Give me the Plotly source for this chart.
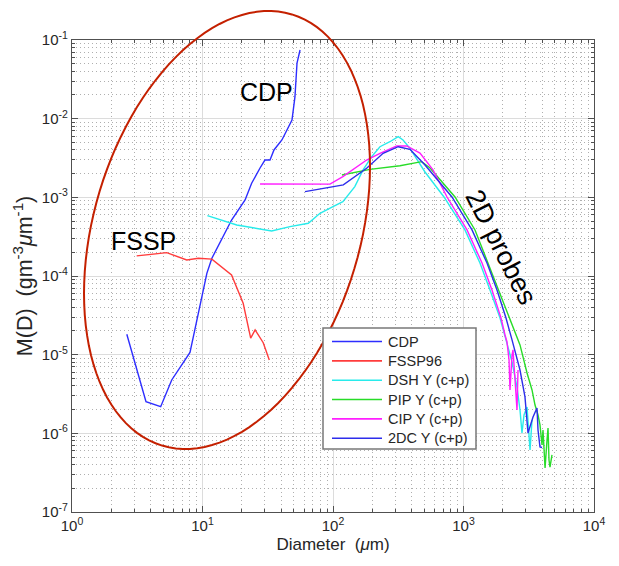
import numpy as np
import plotly.graph_objects as go

# diameters (um) and mass distributions M(D) (g m^-3 um^-1)
cdp_d = [2.63, 3.69, 4.78, 5.81, 8.02, 9.03, 10.8, 11.8, 14.4, 16.7, 21.2, 23.8, 27.6,
         30.1, 32.9, 35.3, 40.6, 46.0, 48.5, 51.1, 53.0, 55.9]
cdp_m = [1.82e-5, 2.52e-6, 2.18e-6, 4.77e-6, 1.07e-5, 2.62e-5, 1.08e-4, 1.68e-4, 3.16e-4,
         5.15e-4, 9.25e-4, 1.51e-3, 2.36e-3, 2.98e-3, 2.98e-3, 4.00e-3, 5.36e-3, 7.83e-3,
         9.62e-3, 1.89e-2, 5.10e-2, 7.46e-2]

fssp_d = [3.13, 5.32, 7.57, 9.29, 11.8, 16.7, 20.5, 23.4, 25.3, 29.2, 32.5]
fssp_m = [1.80e-4, 1.98e-4, 1.60e-4, 1.68e-4, 1.64e-4, 1.03e-4, 4.50e-5, 1.62e-5, 2.06e-5,
          1.42e-5, 8.55e-6]

dsh_d = [10.9, 18.3, 33.9, 46.8, 64.7, 79.5, 100, 119, 147, 170, 198, 229, 273, 316, 344,
         389, 507, 709, 1026, 1337, 1596, 1905, 2117, 2354, 2570, 2710, 2806, 2909, 3068,
         3235, 3350]
dsh_m = [5.85e-4, 4.45e-4, 3.73e-4, 4.24e-4, 4.68e-4, 6.27e-4, 7.60e-4, 8.80e-4, 1.37e-3,
         2.23e-3, 3.29e-3, 4.40e-3, 5.09e-3, 5.90e-3, 5.36e-3, 4.20e-3, 2.10e-3, 1.01e-3,
         3.85e-4, 1.46e-4, 6.64e-5, 2.92e-5, 1.54e-5, 8.07e-6, 3.88e-6, 1.98e-6, 1.01e-6,
         1.71e-6, 2.16e-6, 6.14e-7, 1.48e-6]

pip_d = [117, 192, 326, 478, 554, 661, 861, 1225, 1541, 2271, 2710, 3068, 3350, 3532, 3724,
         3856, 3996, 4066, 4217, 4366, 4444, 4520, 4600, 4766]
pip_m = [1.92e-3, 2.27e-3, 2.52e-3, 2.84e-3, 2.36e-3, 1.66e-3, 1.01e-3, 3.85e-4, 1.46e-4,
         2.92e-5, 1.33e-5, 5.85e-6, 3.56e-6, 2.29e-6, 1.71e-6, 1.28e-6, 7.11e-7, 1.10e-6,
         3.63e-7, 8.23e-7, 1.17e-6, 4.58e-7, 3.73e-7, 5.31e-7]

cip_d = [27.6, 55.9, 94.8, 119, 147, 181, 229, 308, 367, 464, 584, 748, 1064, 1387, 1653,
         1938, 2080, 2154, 2233, 2271, 2354, 2395, 2483, 2570, 2617]
cip_m = [1.48e-3, 1.48e-3, 1.47e-3, 1.83e-3, 2.36e-3, 2.98e-3, 3.63e-3, 4.50e-3, 4.50e-3,
         3.66e-3, 2.23e-3, 1.01e-3, 3.85e-4, 1.46e-4, 6.64e-5, 2.92e-5, 1.78e-5, 1.45e-5,
         8.55e-6, 3.56e-6, 9.91e-6, 1.15e-5, 4.77e-6, 1.98e-6, 6.38e-6]

dc2_d = [61.0, 120, 181, 242, 316, 389, 507, 816, 1162, 1514, 1806, 2117, 2354, 2710, 2958,
         3120, 3410, 3658, 3724, 3856, 3996]
dc2_m = [1.18e-3, 1.44e-3, 2.34e-3, 3.63e-3, 4.40e-3, 4.08e-3, 2.58e-3, 1.01e-3, 3.85e-4,
         1.46e-4, 6.64e-5, 2.92e-5, 1.54e-5, 6.38e-6, 2.90e-6, 1.01e-6, 1.61e-6, 2.10e-6,
         1.10e-6, 6.71e-7, 6.60e-7]

series = [
    ('CDP', cdp_d, cdp_m, 'rgb(45,45,255)'),
    ('FSSP96', fssp_d, fssp_m, 'rgb(255,60,60)'),
    ('DSH Y (c+p)', dsh_d, dsh_m, 'rgb(40,235,235)'),
    ('PIP Y (c+p)', pip_d, pip_m, 'rgb(40,220,40)'),
    ('CIP Y (c+p)', cip_d, cip_m, 'rgb(255,30,255)'),
    ('2DC Y (c+p)', dc2_d, dc2_m, 'rgb(45,45,235)'),
]

fig = go.Figure()
for name, d, m, col in series:
    fig.add_trace(go.Scatter(x=d, y=m, mode='lines', name=name,
                             line=dict(color=col, width=1.4)))

# page has an 8px body margin, so the figure is 8px smaller than the window
OFF = 8
W, H = 619 - OFF, 566 - OFF
# plot area in window pixels: x 72..594, y 40..512
L, R, T, B = 72, 594, 40, 512
def to_paper(px, py):
    return (px - L) / (R - L), (B - py) / (B - T)

# tilted ellipse round the small-particle probes
t = np.linspace(0, 2 * np.pi, 121)
psi = np.arccos(0.29)
ex = 227 + 143 * np.cos(t)
ey = 230 - 219 * np.cos(t - psi)
pts = [to_paper(a, b) for a, b in zip(ex, ey)]
path = 'M ' + ' L '.join('%.4f,%.4f' % p for p in pts) + ' Z'
fig.add_shape(type='path', path=path, xref='paper', yref='paper',
              line=dict(color='rgb(196,32,0)', width=2))

txt = dict(family='Liberation Sans, Arial', size=25, color='black')
for label, px, py, ang, fs in [('CDP', 266, 92, 0, 25), ('FSSP', 143, 241, 0, 25),
                               ('2D probes', 501, 247, 63, 27)]:
    xp, yp = to_paper(px, py)
    fig.add_annotation(x=xp, y=yp, xref='paper', yref='paper', text=label, showarrow=False,
                       textangle=ang, font=dict(txt, size=fs), xanchor='center', yanchor='middle')

# legend box drawn by hand, MATLAB style
tcol = 'rgb(38,38,38)'
x0, y0 = to_paper(323, 328)
x1, y1 = to_paper(476, 449)
fig.add_shape(type='rect', xref='paper', yref='paper', x0=x0, y0=y0, x1=x1, y1=y1,
              fillcolor='white', line=dict(color='rgb(120,120,120)', width=1.5))
for i, (name, d, m, col) in enumerate(series):
    row = 341.5 + 19.35 * i
    lx0, ly = to_paper(332, row)
    lx1, _ = to_paper(382, row)
    fig.add_shape(type='line', xref='paper', yref='paper', x0=lx0, x1=lx1, y0=ly, y1=ly,
                  line=dict(color=col, width=1.6))
    tx, _ = to_paper(386, row)
    fig.add_annotation(x=tx, y=ly, xref='paper', yref='paper', text=name, showarrow=False,
                       xanchor='left', yanchor='middle',
                       font=dict(family='Liberation Sans, Arial', size=14.5, color=tcol))

grid_major = 'rgb(220,220,220)'
grid_minor = 'rgb(175,175,175)'
axcol = 'rgb(80,80,80)'

xminor = [m * 10 ** k for k in range(0, 4) for m in range(2, 10)]
yminor = [m * 10.0 ** k for k in range(-7, -1) for m in range(2, 10)]

fig.update_xaxes(type='log', range=[0, 4],
                 tickvals=[1, 10, 100, 1000, 10000],
                 ticktext=['10<sup>%d</sup>' % k for k in range(5)],
                 showline=True, linecolor=axcol, linewidth=1.2, mirror='ticks',
                 ticks='inside', ticklen=6, tickcolor=axcol,
                 showgrid=True, gridcolor=grid_major, zeroline=False,
                 minor=dict(tickvals=xminor, ticks='inside', ticklen=3, tickcolor=axcol,
                            showgrid=True, gridcolor=grid_minor, griddash='1px,3px'),
                 tickfont=dict(size=15, color=tcol),
                 title=dict(text='Diameter\u00a0\u00a0(<i>\u03bc</i>m)', standoff=5,
                            font=dict(size=17, color=tcol)))
fig.update_yaxes(type='log', range=[-7, -1],
                 tickvals=[10.0 ** k for k in range(-7, 0)],
                 ticktext=['10<sup>-%d</sup>' % k for k in range(7, 0, -1)],
                 showline=True, linecolor=axcol, linewidth=1.2, mirror='ticks',
                 ticks='inside', ticklen=6, tickcolor=axcol,
                 showgrid=True, gridcolor=grid_major, zeroline=False,
                 minor=dict(tickvals=yminor, ticks='inside', ticklen=3, tickcolor=axcol,
                            showgrid=True, gridcolor=grid_minor, griddash='1px,3px'),
                 tickfont=dict(size=15, color=tcol),
                 title=dict(text='M(D)\u00a0\u00a0(gm<sup>-3</sup><i>\u03bc</i>m<sup>-1</sup>)',
                            standoff=3, font=dict(size=21.5, color=tcol)))

fig.update_layout(
    width=W, height=H,
    margin=dict(l=L - OFF, r=619 - R, t=T - OFF, b=566 - B, autoexpand=False),
    paper_bgcolor='white', plot_bgcolor='white',
    font=dict(family='Liberation Sans, Arial', color=tcol),
    showlegend=False,
)

fig.write_html('out.html')
